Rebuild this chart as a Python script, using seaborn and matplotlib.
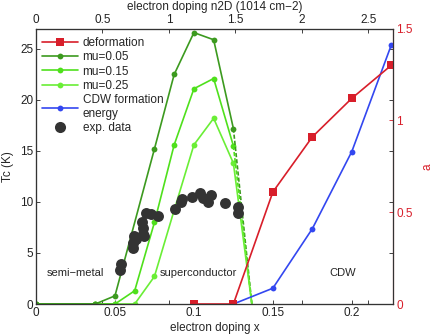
import numpy as np
import seaborn as sns

from matplotlib import pyplot as plt
from matplotlib.lines import Line2D

# electron doping x and calculated Tc (K) for the three mu values
mu005_x = [0, 0.0375, 0.05, 0.075, 0.0875, 0.1, 0.1125, 0.125]
mu005_tc = [0, 0, 0.8, 15.2, 22.5, 26.6, 25.9, 17.2]
mu015_x = [0, 0.0375, 0.05, 0.0625, 0.075, 0.0875, 0.1, 0.1125, 0.125]
mu015_tc = [0, 0, 0, 1.3, 8.0, 15.6, 21.1, 22.1, 15.5]
mu025_x = [0, 0.0375, 0.05, 0.0625, 0.075, 0.0875, 0.1, 0.1125, 0.125]
mu025_tc = [0, 0, 0, 0, 2.7, 9.2, 15.6, 18.2, 13.8]
tc_end_x = 0.1367  # where the curves drop to zero

# right axis: deformation a and CDW formation energy
deform_x = [0.1, 0.125, 0.15, 0.175, 0.2, 0.225]
deform_a = [0, 0, 0.61, 0.91, 1.12, 1.30]
cdw_x = [0.125, 0.15, 0.175, 0.2, 0.225]
cdw_a = [0, 0.086, 0.41, 0.83, 1.41]

# experimental data
exp_x = [0.0539, 0.0532, 0.0613, 0.0617, 0.0621, 0.0634, 0.068, 0.068, 0.0674,
         0.0684, 0.0697, 0.0727, 0.0775, 0.0881, 0.0919, 0.0923, 0.0987,
         0.1039, 0.106, 0.1092, 0.1109, 0.1198, 0.1282, 0.1278]
exp_tc = [3.92, 3.33, 5.46, 6.0, 6.67, 6.4, 6.86, 7.42, 8.07, 6.7, 8.95, 8.79,
          8.66, 9.28, 9.97, 10.3, 10.46, 10.85, 10.36, 10.03, 10.69, 9.87,
          9.54, 8.89]

top_ticks = [0, 0.5, 1, 1.5, 2, 2.5]
n2d_per_x = 11.88

red = '#d81e2a'
blue = '#3347f0'
dgreen = '#3c9a1f'
green1 = '#4fe01c'
green2 = '#6aee36'
gray = '#333333'

sns.set_style('white')
plt.rcParams['font.family'] = ['Liberation Sans', 'DejaVu Sans']
plt.rcParams['font.size'] = 8

fig = plt.figure(figsize=(4.36, 3.36), dpi=100)
ax = fig.add_axes([0.0826, 0.0952, 0.8199, 0.8199])
ax2 = ax.twinx()
ax3 = ax.twiny()

lw = 1.2
ms = 4.2
kw = dict(sort=False, estimator=None, marker='o', markersize=ms,
          markeredgewidth=0, linewidth=lw)

sns.lineplot(x=mu025_x, y=mu025_tc, ax=ax, color=green2, **kw)
sns.lineplot(x=mu015_x, y=mu015_tc, ax=ax, color=green1, **kw)
sns.lineplot(x=mu005_x, y=mu005_tc, ax=ax, color=dgreen, **kw)

# tails down to zero
ax.plot([mu005_x[-1], tc_end_x], [mu005_tc[-1], 0], color=dgreen, lw=lw, ls='--', dashes=(2.5, 1.2))
ax.plot([mu015_x[-1], tc_end_x], [mu015_tc[-1], 0], color=green1, lw=lw, ls='--', dashes=(2.5, 1.2))
ax.plot([mu025_x[-1], tc_end_x], [mu025_tc[-1], 0], color=green2, lw=lw)

sns.scatterplot(x=exp_x, y=exp_tc, ax=ax, color=gray, s=62, linewidth=0, zorder=5)

sns.lineplot(x=cdw_x, y=cdw_a, ax=ax2, color=blue, **kw)
sns.lineplot(x=deform_x, y=deform_a, ax=ax2, color=red, sort=False,
             estimator=None, marker='s', markersize=6, markeredgewidth=0,
             linewidth=lw)

ax.text(0.0068, 3.0, 'semi\u2212metal', va='center', fontsize=8)
ax.text(0.0781, 3.0, 'superconductor', va='center', fontsize=8)
ax.text(0.1859, 3.0, 'CDW', va='center', fontsize=8)

ax.set_xlim(0, 0.2264)
ax.set_ylim(0, 27)
ax2.set_ylim(0, 1.5)
ax3.set_xlim(0, 0.2264 * n2d_per_x)

ax.set_xticks([0, 0.05, 0.1, 0.15, 0.2])
ax.set_xticklabels(['0', '0.05', '0.1', '0.15', '0.2'])
ax.set_xticks([t / n2d_per_x for t in top_ticks], minor=True)
ax.set_yticks([0, 5, 10, 15, 20, 25])
ax2.set_yticks([0, 0.5, 1, 1.5])
ax2.set_yticklabels(['0', '0.5', '1', '1.5'])
ax3.set_xticks(top_ticks)
ax3.set_xticklabels(['0', '0.5', '1', '1.5', '2', '2.5'])

ax.tick_params(axis='both', which='both', direction='in', length=3, width=0.6,
               labelsize=8.5, pad=2, colors='#222222', right=True, left=True,
               bottom=True)
ax.tick_params(axis='x', which='minor', length=3)
ax2.tick_params(axis='y', direction='in', length=3, width=0.6, labelsize=8.5,
                pad=2, colors=red)
ax3.tick_params(axis='x', direction='in', length=3, width=0.6, labelsize=8.5,
                pad=2, colors='#222222')

for a in (ax, ax2, ax3):
    for s in a.spines.values():
        s.set_linewidth(0.8)
        s.set_color('#333333')
ax2.spines['right'].set_color(red)

ax.set_xlabel('electron doping x', fontsize=8.5, labelpad=2)
ax.set_ylabel('Tc (K)', fontsize=8.5, labelpad=4)
ax2.set_ylabel('a', fontsize=8.5, color=red, rotation=90, labelpad=6)
ax3.set_xlabel('electron doping n2D (1014 cm\u22122)', fontsize=8.5, labelpad=3)

for a in (ax, ax2, ax3):
    if a.get_legend() is not None:
        a.get_legend().remove()

handles = [
    Line2D([], [], color=red, lw=lw, marker='s', markersize=6, markeredgewidth=0),
    Line2D([], [], color=dgreen, lw=lw, marker='o', markersize=ms, markeredgewidth=0),
    Line2D([], [], color=green1, lw=lw, marker='o', markersize=ms, markeredgewidth=0),
    Line2D([], [], color=green2, lw=lw, marker='o', markersize=ms, markeredgewidth=0),
    Line2D([], [], color=blue, lw=lw, marker='o', markersize=ms, markeredgewidth=0),
    Line2D([], [], color=gray, lw=0, marker='o', markersize=8, markeredgewidth=0),
]
labels = ['deformation', 'mu=0.05', 'mu=0.15', 'mu=0.25',
          'CDW formation\nenergy', 'exp. data']
ax3.legend(handles, labels, loc='upper left', frameon=False, fontsize=8.5,
           handlelength=3.0, handletextpad=0.4, labelspacing=0.2,
           borderaxespad=0.3, bbox_to_anchor=(-0.005, 1.0))

fig.savefig('out.png', dpi=100)
